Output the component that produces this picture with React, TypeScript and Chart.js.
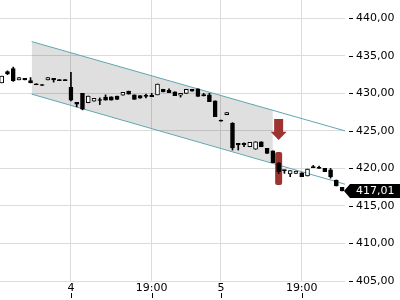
import React, { useEffect, useRef } from 'react';
import { Chart, registerables } from 'chart.js';

Chart.register(...registerables);

// ---- Data ----
const opens = [
  431.4, 432.9, 433.3, 431.8, 432.0, 431.7, 431.25, 431.15, 431.8, 432.0,
  431.8, 431.8, 430.8, 428.8, 430.0, 428.75, 428.95, 429.1, 429.5, 429.55,
  429.65, 429.75, 430.3, 429.8, 429.7, 429.65, 429.75, 429.8, 430.55, 430.4,
  430.2, 429.75, 430.0, 430.55, 430.6, 429.85, 429.8, 429.0, 426.35, 427.15,
  426.05, 423.35, 423.35, 422.89, 422.55, 423.56, 422.68, 422.36, 420.76, 419.75,
  419.26, 419.35, 419.43, 418.99, 420.15, 420.1, 420.02, 419.8, 418.46, 417.48,
];
const highs = [
  432.3, 433.0, 433.5, 432.1, 432.0, 432.1, 431.25, 431.15, 432.1, 432.0,
  431.8, 431.8, 432.8, 428.8, 430.0, 429.65, 429.35, 429.4, 429.8, 429.55,
  429.65, 430.15, 430.3, 429.8, 429.7, 429.9, 430.0, 431.25, 430.55, 430.6,
  430.2, 430.0, 430.55, 430.55, 430.6, 430.0, 430.0, 429.0, 426.35, 427.45,
  426.1, 423.35, 423.4, 423.48, 423.56, 423.56, 422.68, 422.36, 420.76, 419.8,
  419.7, 419.66, 419.43, 419.92, 420.4, 420.3, 420.02, 420.0, 418.46, 417.48,
];
const lows = [
  431.4, 432.5, 431.6, 431.8, 431.8, 431.4, 431.15, 431.05, 431.8, 431.5,
  431.7, 431.7, 429.0, 428.2, 427.8, 428.75, 428.95, 428.5, 429.1, 429.1,
  429.2, 429.75, 429.9, 429.2, 429.35, 429.4, 429.55, 429.8, 430.2, 430.1,
  429.7, 429.5, 430.0, 430.3, 429.6, 429.65, 428.9, 426.9, 426.3, 427.15,
  422.45, 422.45, 422.9, 422.89, 422.55, 422.89, 422.01, 420.76, 419.3, 419.35,
  418.9, 419.35, 418.9, 418.99, 420.1, 420.0, 419.56, 418.7, 417.66, 417.01,
];
const closes = [
  432.3, 432.6, 431.7, 432.1, 431.8, 431.4, 431.15, 431.05, 432.1, 431.8,
  431.7, 431.7, 429.1, 428.55, 427.9, 429.65, 429.35, 429.05, 429.1, 429.1,
  429.2, 430.15, 429.9, 429.2, 429.35, 429.6, 429.55, 431.25, 430.2, 430.1,
  429.7, 430.0, 430.55, 430.3, 429.6, 429.65, 428.9, 426.9, 426.3, 427.45,
  422.72, 423.12, 423.15, 423.48, 423.56, 422.89, 422.01, 420.76, 419.56, 419.7,
  419.7, 419.66, 418.9, 419.92, 420.1, 420.0, 419.56, 418.9, 417.66, 417.01,
];

const xTickPositions = [12, 26, 38, 52];
const xTickLabels = ['4', '19:00', '5', '19:00'];
const yTickValues = [405, 410, 415, 420, 425, 430, 435, 440];

// trend channel
const channelX = [5.2, 59.5];
const channelUpper = [436.9, 425.0];
const channelLower = [429.9, 417.9];
const shadeX = [5.2, 47.0];
const shadeUpper = [436.9, 427.8];
const shadeLower = [429.9, 420.7];

// signal marker
const signalIndex = 48;
const arrowTopValue = 426.6;
const arrowShaftEndValue = 424.9;
const arrowTipValue = 423.8;
const highlightTopValue = 422.2;
const highlightBottomValue = 417.8;

const fmt = (v: number) => v.toFixed(2).replace('.', ',');

const overlayPlugin = {
  id: 'overlay',
  beforeDatasetDraw(chart: any, args: any) {
    if (args.meta.label !== 'wicks') return;
    const { ctx } = chart;
    const xs = chart.scales.x;
    const ys = chart.scales.y;
    const cx = xs.getPixelForValue(signalIndex);
    const t = ys.getPixelForValue(highlightTopValue);
    const b = ys.getPixelForValue(highlightBottomValue);
    ctx.save();
    ctx.fillStyle = 'rgb(158,52,48)';
    const w = 7;
    const r = 2;
    const x = cx - w / 2;
    ctx.beginPath();
    ctx.moveTo(x + r, t);
    ctx.lineTo(x + w - r, t);
    ctx.quadraticCurveTo(x + w, t, x + w, t + r);
    ctx.lineTo(x + w, b - r);
    ctx.quadraticCurveTo(x + w, b, x + w - r, b);
    ctx.lineTo(x + r, b);
    ctx.quadraticCurveTo(x, b, x, b - r);
    ctx.lineTo(x, t + r);
    ctx.quadraticCurveTo(x, t, x + r, t);
    ctx.closePath();
    ctx.fill();
    ctx.restore();
  },
  afterDraw(chart: any) {
    const { ctx, chartArea } = chart;
    const xs = chart.scales.x;
    const ys = chart.scales.y;
    ctx.save();
    // arrow
    const cx = xs.getPixelForValue(signalIndex);
    const top = ys.getPixelForValue(arrowTopValue);
    const shaftEnd = ys.getPixelForValue(arrowShaftEndValue);
    const tip = ys.getPixelForValue(arrowTipValue);
    ctx.fillStyle = 'rgb(158,52,48)';
    ctx.beginPath();
    ctx.moveTo(cx - 4.5, top);
    ctx.lineTo(cx + 4.5, top);
    ctx.lineTo(cx + 4.5, shaftEnd);
    ctx.lineTo(cx + 8, shaftEnd);
    ctx.lineTo(cx, tip);
    ctx.lineTo(cx - 8, shaftEnd);
    ctx.lineTo(cx - 4.5, shaftEnd);
    ctx.closePath();
    ctx.fill();

    // tick dashes on y axis
    ctx.strokeStyle = '#000';
    ctx.lineWidth = 1;
    ctx.beginPath();
    ys.ticks.forEach((tk: any) => {
      const y = Math.round(ys.getPixelForValue(tk.value)) + 0.5;
      ctx.moveTo(chartArea.right + 4, y);
      ctx.lineTo(chartArea.right + 8, y);
    });
    // tick dashes on x axis (below labels)
    xs.ticks.forEach((tk: any) => {
      const x = Math.round(xs.getPixelForValue(tk.value)) + 0.5;
      ctx.moveTo(x, chartArea.bottom + 11);
      ctx.lineTo(x, chartArea.bottom + 16);
    });
    ctx.stroke();

    // last price tag
    const last = closes[closes.length - 1];
    const py = ys.getPixelForValue(last);
    const left = chartArea.right - 1;
    ctx.fillStyle = '#000';
    ctx.beginPath();
    ctx.moveTo(left, py);
    ctx.lineTo(left + 6, py - 7);
    ctx.lineTo(chart.width, py - 7);
    ctx.lineTo(chart.width, py + 7);
    ctx.lineTo(left + 6, py + 7);
    ctx.closePath();
    ctx.fill();
    ctx.fillStyle = '#fff';
    ctx.font = "11px 'DejaVu Sans'";
    ctx.textBaseline = 'middle';
    ctx.textAlign = 'left';
    ctx.fillText(fmt(last), chartArea.right + 11, py + 0.5);
    ctx.restore();
  },
};

export default function App() {
  const ref = useRef<HTMLCanvasElement>(null);
  useEffect(() => {
    if (!ref.current) return;
    Chart.defaults.font.family = "'DejaVu Sans', sans-serif";
    Chart.defaults.font.size = 11;
    Chart.defaults.color = '#000';

    const idx = opens.map((_, i) => i);
    const bodies = idx.map((i) => ({ x: i, y: [opens[i], closes[i]] }));
    const wicks = idx.map((i) => ({ x: i, y: [lows[i], highs[i]] }));
    const isUp = (i: number) => closes[i] > opens[i];

    const chart = new Chart(ref.current, {
      type: 'bar',
      data: {
        datasets: [
          {
            type: 'line',
            label: 'shadeUpper',
            data: shadeX.map((x, i) => ({ x, y: shadeUpper[i] })),
            borderWidth: 0,
            pointRadius: 0,
            fill: '+1',
            backgroundColor: 'rgba(0,0,0,0.125)',
            order: 10,
          } as any,
          {
            type: 'line',
            label: 'shadeLower',
            data: shadeX.map((x, i) => ({ x, y: shadeLower[i] })),
            borderWidth: 0,
            pointRadius: 0,
            fill: false,
            order: 9,
          } as any,
          {
            type: 'line',
            label: 'upper',
            data: channelX.map((x, i) => ({ x, y: channelUpper[i] })),
            borderColor: 'rgb(95,168,176)',
            borderWidth: 1,
            pointRadius: 0,
            fill: false,
            order: 5,
          } as any,
          {
            type: 'line',
            label: 'lower',
            data: channelX.map((x, i) => ({ x, y: channelLower[i] })),
            borderColor: 'rgb(95,168,176)',
            borderWidth: 1,
            pointRadius: 0,
            fill: false,
            order: 5,
          } as any,
          {
            type: 'bar',
            label: 'wicks',
            data: wicks as any,
            backgroundColor: '#000',
            barThickness: 1,
            grouped: false,
            minBarLength: 1,
            order: 2,
          } as any,
          {
            type: 'bar',
            label: 'bodies',
            data: bodies as any,
            backgroundColor: idx.map((i) => (isUp(i) ? '#fff' : '#000')),
            borderColor: '#000',
            borderWidth: 1,
            borderSkipped: false,
            barThickness: 4,
            grouped: false,
            minBarLength: 1,
            order: 1,
          } as any,
        ],
      },
      options: {
        responsive: false,
        animation: false,
        layout: { padding: 0 },
        plugins: { legend: { display: false }, tooltip: { enabled: false } },
        scales: {
          x: {
            type: 'linear',
            min: -0.295,
            max: 59.5,
            offset: false,
            grid: { color: '#dcdcdc', drawTicks: false, offset: false },
            border: { display: false },
            afterBuildTicks: (scale: any) => {
              scale.ticks = xTickPositions.map((v) => ({ value: v }));
            },
            afterFit: (scale: any) => {
              scale.height = 18;
              scale.paddingLeft = 0;
              scale.paddingRight = 0;
            },
            ticks: {
              padding: 0,
              autoSkip: false,
              maxRotation: 0,
              callback: (v: any) => {
                const k = xTickPositions.indexOf(Number(v));
                return k >= 0 ? xTickLabels[k] : null;
              },
            },
          },
          y: {
            type: 'linear',
            position: 'right',
            min: 404.87,
            max: 442.44,
            grid: { color: '#dcdcdc', drawTicks: false },
            border: { display: false },
            afterBuildTicks: (scale: any) => {
              scale.ticks = yTickValues.map((v) => ({ value: v }));
            },
            afterFit: (scale: any) => {
              scale.width = 55;
              scale.paddingTop = 0;
              scale.paddingBottom = 0;
            },
            ticks: {
              padding: 11,
              callback: (v: any) => fmt(Number(v)),
            },
          },
        },
      } as any,
      plugins: [overlayPlugin],
    });
    return () => chart.destroy();
  }, []);

  return (
    <div style={{ position: 'fixed', left: 0, top: 0, width: 400, height: 300, background: '#fff' }}>
      <canvas ref={ref} width={400} height={300} style={{ display: 'block' }} />
    </div>
  );
}
